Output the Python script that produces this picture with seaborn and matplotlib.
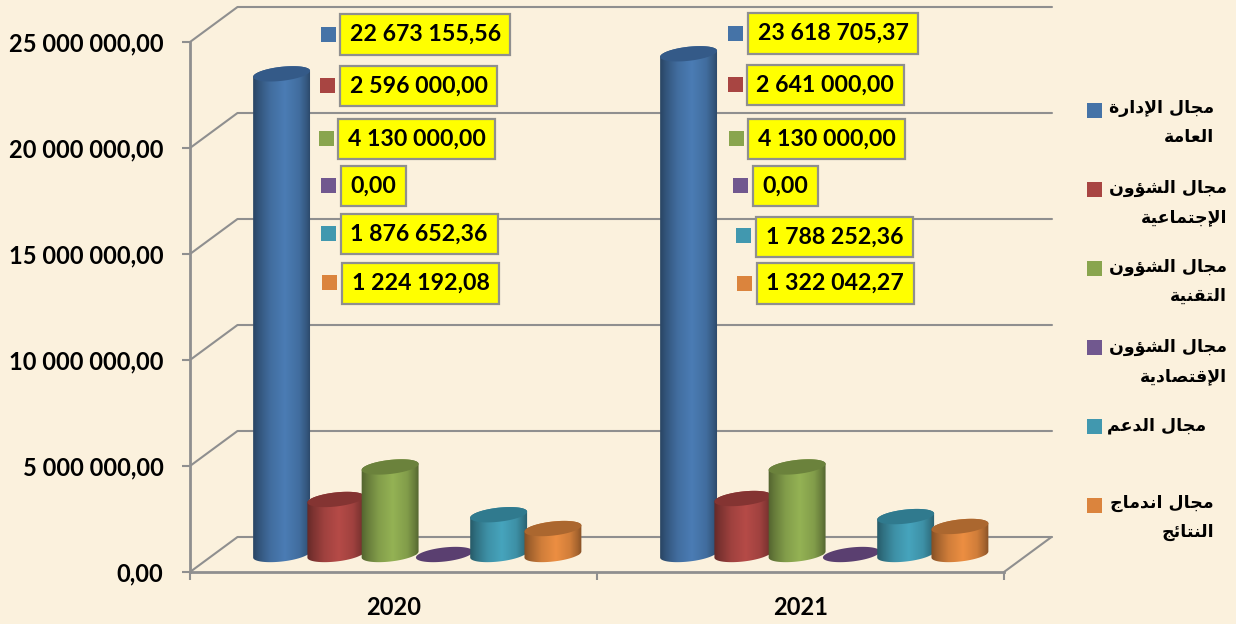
import numpy as np
import pandas as pd
import seaborn as sns
import matplotlib
matplotlib.use("Agg")
import matplotlib.pyplot as plt
from matplotlib.patches import Polygon, Rectangle
from matplotlib.ticker import FuncFormatter

years = ["2020", "2021"]
fields = [
    "مجال الإدارة العامة",
    "مجال الشؤون الإجتماعية",
    "مجال الشؤون التقنية",
    "مجال الشؤون الإقتصادية",
    "مجال الدعم",
    "مجال اندماج النتائج",
]
values_2020 = [22673155.56, 2596000.00, 4130000.00, 0.00, 1876652.36, 1224192.08]
values_2021 = [23618705.37, 2641000.00, 4130000.00, 0.00, 1788252.36, 1322042.27]
y_ticks = [0, 5000000, 10000000, 15000000, 20000000, 25000000]
legend_lines = [
    ["مجال الإدارة", "العامة"],
    ["مجال الشؤون", "الإجتماعية"],
    ["مجال الشؤون", "التقنية"],
    ["مجال الشؤون", "الإقتصادية"],
    ["مجال الدعم"],
    ["مجال اندماج", "النتائج"],
]

colors = ["#4573A7", "#A84542", "#89A54E", "#71588F", "#4198AF", "#DB843D"]
top_colors = ["#345A88", "#843432", "#6B823C", "#5A3F70", "#307A8E", "#AB672F"]

# layout, in pixels of the 1236x624 picture
W, H = 1236, 624
X0, X1, Y0, Y25 = 190, 1004, 572, 42
DEPTH_X, DEPTH_Y = 47.5, 35
# left edge / vertical centre of the yellow boxes, key square centre
box_pos = {
    "2020": [(340, 34.5), (340, 86), (338, 139), (341, 186), (341, 234), (342, 283.5)],
    "2021": [(748, 33.5), (747, 85), (748, 139), (753, 186), (756, 237), (757, 283.5)],
}
key_pos = {
    "2020": [(328.5, 34.5), (327.5, 85.5), (326.5, 138.5), (328.5, 185.5), (328.5, 233.5), (329.5, 282.5)],
    "2021": [(735.5, 33.5), (735.5, 84.5), (736.5, 138.5), (740.5, 185.5), (743.5, 235.5), (744.5, 283.5)],
}
legend_key_y = [110.5, 189.5, 268.5, 347.5, 426.5, 505.5]
legend_text_x = [1214, 1227, 1227, 1227, 1206, 1214]
legend_text_y = [108, 188, 267, 347, 426, 503]


# matplotlib does no Arabic shaping, so pick the presentation forms here
FORMS = {
    "ا": (0xFE8D, 0xFE8E), "إ": (0xFE87, 0xFE88), "د": (0xFEA9, 0xFEAA),
    "ر": (0xFEAD, 0xFEAE), "ة": (0xFE93, 0xFE94), "و": (0xFEED, 0xFEEE),
    "ؤ": (0xFE85, 0xFE86),
    "ج": (0xFE9D, 0xFE9E, 0xFE9F, 0xFEA0), "م": (0xFEE1, 0xFEE2, 0xFEE3, 0xFEE4),
    "ل": (0xFEDD, 0xFEDE, 0xFEDF, 0xFEE0), "ع": (0xFEC9, 0xFECA, 0xFECB, 0xFECC),
    "ش": (0xFEB5, 0xFEB6, 0xFEB7, 0xFEB8), "ن": (0xFEE5, 0xFEE6, 0xFEE7, 0xFEE8),
    "ت": (0xFE95, 0xFE96, 0xFE97, 0xFE98), "ق": (0xFED5, 0xFED6, 0xFED7, 0xFED8),
    "ي": (0xFEF1, 0xFEF2, 0xFEF3, 0xFEF4), "ص": (0xFEB9, 0xFEBA, 0xFEBB, 0xFEBC),
    "ئ": (0xFE89, 0xFE8A, 0xFE8B, 0xFE8C),
}
LAM_ALEF = {"ا": (0xFEFB, 0xFEFC), "إ": (0xFEF9, 0xFEFA)}


def shape_arabic(s):
    out = []
    prev_joins = False
    i = 0
    while i < len(s):
        c = s[i]
        if c not in FORMS:
            out.append(c)
            prev_joins = False
            i += 1
            continue
        nxt = s[i + 1] if i + 1 < len(s) else " "
        if c == "ل" and nxt in LAM_ALEF:
            out.append(chr(LAM_ALEF[nxt][1 if prev_joins else 0]))
            prev_joins = False
            i += 2
            continue
        forms = FORMS[c]
        if len(forms) == 2:
            out.append(chr(forms[1 if prev_joins else 0]))
            prev_joins = False
        else:
            next_ok = nxt in FORMS
            if prev_joins and next_ok:
                out.append(chr(forms[3]))
            elif prev_joins:
                out.append(chr(forms[1]))
            elif next_ok:
                out.append(chr(forms[2]))
            else:
                out.append(chr(forms[0]))
            prev_joins = next_ok
        i += 1
    return "".join(reversed(out))


def fmt_num(v, pos=None):
    txt = f"{v:,.2f}"
    return txt.replace(",", " ").replace(".", ",")


def px_axes(left, right, y_bottom, y_top):
    return fig.add_axes([left / W, 1 - y_bottom / H, (right - left) / W, (y_bottom - y_top) / H])


df = pd.DataFrame({
    "year": np.repeat(years, len(fields)),
    "field": fields * 2,
    "value": values_2020 + values_2021,
})

sns.set_theme(style="white")
plt.rcParams["font.family"] = ["Lato", "DejaVu Sans"]

fig = plt.figure(figsize=(W / 100, H / 100), dpi=100, facecolor="#FBF1DD")

# front axes: y scale, ticks, floor edge and the walls
ax = px_axes(X0, X1, Y0, Y25)
ax.patch.set_alpha(0)
ax.set_xlim(-0.5, 1.5)
ax.set_ylim(0, y_ticks[-1])
sx = 2 / (X1 - X0)
sy = y_ticks[-1] / (Y0 - Y25)
dx, dy = DEPTH_X * sx, DEPTH_Y * sy
GREY = "#8F8F8F"
for t in y_ticks:
    ax.plot([-0.5, -0.5 + dx], [t, t + dy], color=GREY, lw=1.5, clip_on=False, zorder=1)
    ax.plot([-0.5 + dx, 1.5 + dx], [t + dy, t + dy], color=GREY, lw=1.5, clip_on=False, zorder=1)
ax.plot([1.5, 1.5 + dx], [0, dy], color=GREY, lw=1.5, clip_on=False, zorder=1)
for side in ["top", "right"]:
    ax.spines[side].set_visible(False)
for side in ["left", "bottom"]:
    ax.spines[side].set_color(GREY)
    ax.spines[side].set_linewidth(2)
ax.set_yticks(y_ticks)
ax.yaxis.set_major_formatter(FuncFormatter(fmt_num))
ax.set_xticks([-0.5, 0.5, 1.5])
ax.set_xticklabels([])
ax.tick_params(axis="both", length=6, width=1.5, color=GREY, bottom=True, left=True)
ax.tick_params(axis="y", pad=13, labelsize=17)
for lab in ax.get_yticklabels():
    lab.set_fontweight("bold")
    lab.set_color("black")
for i, y in enumerate(years):
    ax.text(i, -2.03e6, y, ha="center", va="baseline", fontsize=17, fontweight="bold", color="black")

# the cylinders stand half way into the depth, on their own axes
BASE_UP = 17.5
LOW = 20  # spare pixels under the base so the round bottoms are not cut
bx = px_axes(X0 + DEPTH_X / 2, X1 + DEPTH_X / 2, Y0 - BASE_UP + LOW, Y25 - BASE_UP)
bx.patch.set_alpha(0)
sns.barplot(data=df, x="year", y="value", hue="field", hue_order=fields, palette=colors,
            saturation=1, width=0.8, gap=0, legend=False, ax=bx)
ylim_b = (-LOW * sy, y_ticks[-1])
bx.set_xlim(-0.5, 1.5)
bx.set_ylim(*ylim_b)
bx.axis("off")

theta = np.deg2rad(6.5)
bars = sorted(bx.patches, key=lambda p: p.get_x())
for n, bar in enumerate(bars):
    c = n % len(fields)
    cx = bar.get_x() + bar.get_width() / 2
    top = bar.get_height()
    a = bar.get_width() / 2 / sx + 1.5
    b = 7


    def ring(t, base):
        xp = a * np.cos(t) * np.cos(theta) - b * np.sin(t) * np.sin(theta)
        yp = a * np.cos(t) * np.sin(theta) + b * np.sin(t) * np.cos(theta)
        return np.column_stack([cx + xp * sx, base + yp * sy])


    z = 3 + n
    cap = Polygon(ring(np.linspace(0, 2 * np.pi, 80), top), closed=True, fc=top_colors[c], ec="none",
                  zorder=z + 0.5, clip_on=False)
    if top > 0:
        body = Polygon(np.vstack([ring(np.linspace(np.pi, 2 * np.pi, 40), 0),
                                  ring(np.linspace(0, np.pi, 40), top)]),
                       closed=True, fc="none", ec="none", transform=bx.transData)
        bx.add_patch(body)
        bar.set_zorder(z)
        bar.set_clip_path(body)
        base_rgb = np.array(matplotlib.colors.to_rgb(colors[c]))
        u = np.linspace(0, 1, 64)
        shade = np.interp(u, [0, 0.1, 0.3, 0.55, 0.8, 0.93, 1], [0.6, 0.74, 0.95, 1.08, 0.95, 0.76, 0.62])
        img = np.clip(base_rgb[None, None, :] * shade[None, :, None], 0, 1)
        half = a * sx
        im = bx.imshow(img, extent=[cx - half, cx + half, -12 * sy, top + 12 * sy], aspect="auto",
                       interpolation="bilinear", zorder=z + 0.2)
        im.set_clip_path(body)
    else:
        bar.set_visible(False)
    bx.add_patch(cap)
bx.set_xlim(-0.5, 1.5)
bx.set_ylim(*ylim_b)

# overlay in plain pixels for the labels and the legend
ov = fig.add_axes([0, 0, 1, 1], zorder=10)
ov.set_xlim(0, W)
ov.set_ylim(H, 0)
ov.axis("off")


def key(x, y, color, size=15):
    ov.add_patch(Rectangle((x - size / 2, y - size / 2), size, size, fc=color, ec="none"))


for year, vals in zip(years, [values_2020, values_2021]):
    for i, v in enumerate(vals):
        bxx, byy = box_pos[year][i]
        kx, ky = key_pos[year][i]
        key(kx, ky, colors[i])
        ov.text(bxx + 9.5, byy, fmt_num(v), ha="left", va="center", fontsize=16.7, fontweight="bold",
                color="black", zorder=12,
                bbox=dict(boxstyle="square,pad=0.42", fc="#FFFF00", ec=GREY, lw=1.6))

for i, lines in enumerate(legend_lines):
    key(1094.5, legend_key_y[i], colors[i])
    for j, line in enumerate(lines):
        ov.text(legend_text_x[i], legend_text_y[i] + j * 29, shape_arabic(line), ha="right", va="center",
                fontsize=12.5, fontweight="bold", family=["DejaVu Sans"], color="black")

fig.savefig("out.png", dpi=100, facecolor=fig.get_facecolor())
